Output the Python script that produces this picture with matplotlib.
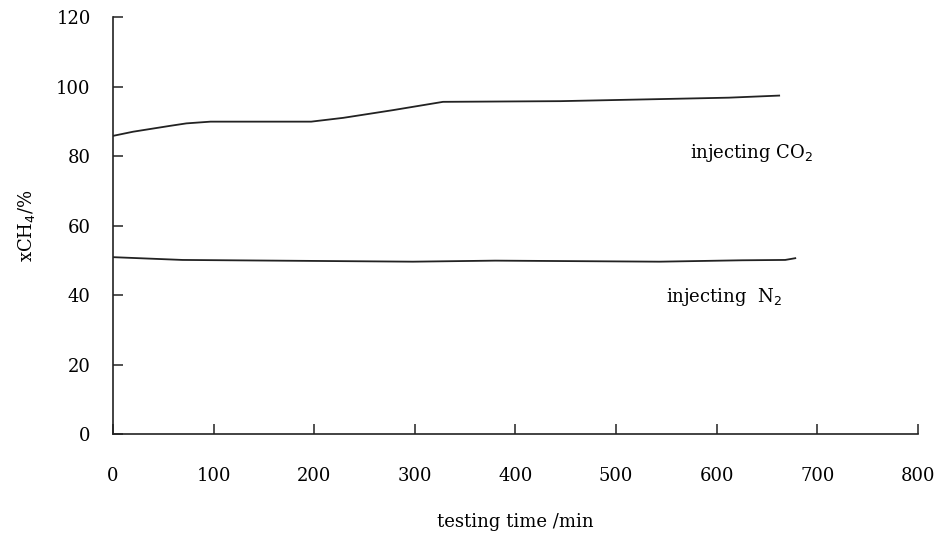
import matplotlib
matplotlib.use("Agg")
from matplotlib import pyplot as plt

# injecting CO2 series
co2_time = [0, 20, 57, 73, 97, 197, 229, 278, 328, 445, 612, 662]
co2_xch4 = [85.8, 87.0, 88.7, 89.4, 89.9, 89.9, 91.0, 93.2, 95.6, 95.8, 96.8, 97.4]

# injecting N2 series
n2_time = [0, 69, 298, 380, 543, 625, 668, 678]
n2_xch4 = [50.9, 50.1, 49.6, 49.9, 49.6, 50.0, 50.1, 50.6]

x_ticks = [0, 100, 200, 300, 400, 500, 600, 700, 800]
y_ticks = [0, 20, 40, 60, 80, 100, 120]

plt.rcParams['font.family'] = ['DejaVu Serif']

fig = plt.figure(figsize=(9.41, 5.33), dpi=100)
ax = fig.add_axes([0.120, 0.1857, 0.8556, 0.7823])

ax.plot(co2_time, co2_xch4, color='#222222', lw=1.3)
ax.plot(n2_time, n2_xch4, color='#222222', lw=1.3)

ax.text(573, 81, r'injecting CO$_2$', fontsize=13, va='center', ha='left')
ax.text(550, 39.5, r'injecting  N$_2$', fontsize=13, va='center', ha='left')

ax.set_xlim(0, 800)
ax.set_ylim(0, 120)
ax.set_xticks(x_ticks)
ax.set_yticks(y_ticks)
ax.spines['top'].set_visible(False)
ax.spines['right'].set_visible(False)
for s in ['left', 'bottom']:
    ax.spines[s].set_linewidth(1.2)
    ax.spines[s].set_color('#222222')
ax.tick_params(axis='both', direction='in', length=7, width=1.1, colors='#222222', labelsize=13)
ax.tick_params(axis='x', pad=24)
ax.tick_params(axis='y', pad=16)
for lab in ax.get_xticklabels() + ax.get_yticklabels():
    lab.set_color('black')

ax.set_xlabel('testing time /min', fontsize=13, labelpad=20)
ax.set_ylabel(r'xCH$_4$/%', fontsize=13, labelpad=14)

fig.savefig('out.png', dpi=100)
